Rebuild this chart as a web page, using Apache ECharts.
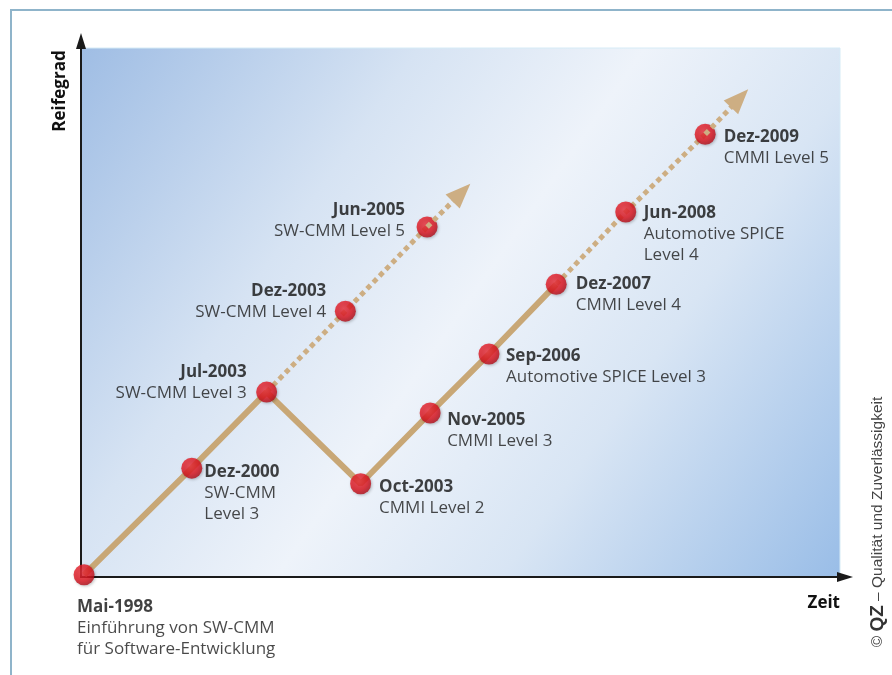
<!DOCTYPE html>
<html>
<head>
<meta charset="utf-8">
<title>Reifegrad</title>
<script src="https://cdn.jsdelivr.net/npm/echarts@6/dist/echarts.min.js"></script>
<style>
  html, body { margin: 0; padding: 0; background: #fff; }
  #main { width: 892px; height: 675px; }
</style>
</head>
<body>
<div id="main"></div>
<script>
  // Meilensteine: schematische Zeit-Position (x) und Reifegrad (y), 0..100
  let milestones = ['Mai-1998', 'Dez-2000', 'Jul-2003', 'Oct-2003', 'Nov-2005', 'Sep-2006', 'Dez-2007', 'Dez-2003', 'Jun-2005', 'Jun-2008', 'Dez-2009'];
  let descriptions = [
    'Einführung von SW-CMM\nfür Software-Entwicklung',
    'SW-CMM\nLevel 3',
    'SW-CMM Level 3',
    'CMMI Level 2',
    'CMMI Level 3',
    'Automotive SPICE Level 3',
    'CMMI Level 4',
    'SW-CMM Level 4',
    'SW-CMM Level 5',
    'Automotive SPICE\nLevel 4',
    'CMMI Level 5'
  ];
  let timePos = [0.4, 14.5, 24.3, 36.6, 45.7, 53.4, 62.2, 34.6, 45.3, 71.3, 81.7];
  let maturity = [0.4, 20.3, 34.5, 17.4, 30.6, 41.6, 54.6, 49.6, 65.3, 68.1, 82.6];

  // Pfade
  let solidPath = ['Mai-1998', 'Dez-2000', 'Jul-2003', 'Oct-2003', 'Nov-2005', 'Sep-2006', 'Dez-2007'];
  let swCmmPath = ['Jul-2003', 'Dez-2003', 'Jun-2005'];
  let cmmiPath = ['Dez-2007', 'Jun-2008', 'Dez-2009'];
  // Trendpfeile (Pfeilmitte)
  let swCmmTrend = [49.8, 71.7];
  let cmmiTrend = [86.2, 89.3];

  // Beschriftungslage je Meilenstein
  let labelPlace = {
    'Mai-1998': {position: 'bottom', distance: 0, align: 'left', verticalAlign: 'top', offset: [-7, 11]},
    'Dez-2000': {position: 'right', distance: 2, align: 'left', verticalAlign: 'top', offset: [0, -6.5]},
    'Jul-2003': {position: 'left', distance: 9.5, align: 'right', verticalAlign: 'bottom', offset: [0, 11.5]},
    'Oct-2003': {position: 'right', distance: 8, align: 'left', verticalAlign: 'top', offset: [0, -7.5]},
    'Nov-2005': {position: 'right', distance: 6.5, align: 'left', verticalAlign: 'top', offset: [0, -3.5]},
    'Sep-2006': {position: 'right', distance: 6.5, align: 'left', verticalAlign: 'top', offset: [0, -8.5]},
    'Dez-2007': {position: 'right', distance: 9, align: 'left', verticalAlign: 'top', offset: [0, -10.5]},
    'Dez-2003': {position: 'left', distance: 8.5, align: 'right', verticalAlign: 'bottom', offset: [0, 11.5]},
    'Jun-2005': {position: 'left', distance: 11.5, align: 'right', verticalAlign: 'bottom', offset: [0, 14.5]},
    'Jun-2008': {position: 'right', distance: 7.5, align: 'left', verticalAlign: 'top', offset: [0, -9.5]},
    'Dez-2009': {position: 'right', distance: 8, align: 'left', verticalAlign: 'top', offset: [0, -7.5]}
  };

  function pt(name) {
    let i = milestones.indexOf(name);
    return [timePos[i], maturity[i]];
  }

  let tan = '#c8a776';
  let dotTan = '#cdae83';
  let font = "'Open Sans', sans-serif";
  let credFont = "'Liberation Sans', Arial, sans-serif";

  let myChart = echarts.init(document.getElementById('main'));
  myChart.setOption({
    animation: false,
    grid: {left: 81, right: 47, top: 41, bottom: 98},
    graphic: [
      {
        type: 'polyline', z: -20, silent: true,
        shape: {points: [[11, 675], [11, 10], [892, 10]]},
        style: {stroke: '#8fb4ca', lineWidth: 2, fill: null}
      },
      {
        type: 'rect', z: -10, silent: true,
        shape: {x: 81, y: 48, width: 759, height: 529},
        style: {
          fill: {
            type: 'linear', x: 0, y: 0, x2: 1, y2: 1,
            colorStops: [
              {offset: 0, color: '#9fbde4'},
              {offset: 0.3, color: '#d6e3f3'},
              {offset: 0.5, color: '#eef3fa'},
              {offset: 0.7, color: '#d8e5f4'},
              {offset: 1, color: '#99bde7'}
            ]
          },
          stroke: '#d6ebf6', lineWidth: 1
        }
      },
      {
        type: 'text', x: 60, y: 91, rotation: Math.PI / 2, silent: true,
        style: {text: 'Reifegrad', align: 'center', verticalAlign: 'middle', font: 'bold 17px ' + font, fill: '#111'}
      },
      {
        type: 'text', x: 840, y: 603, silent: true,
        style: {text: 'Zeit', align: 'right', verticalAlign: 'middle', font: 'bold 17px ' + font, fill: '#111'}
      },
      {
        type: 'text', x: 878, y: 522, rotation: Math.PI / 2, silent: true,
        style: {
          text: '© {q|QZ} – Qualität und Zuverlässigkeit',
          align: 'center', verticalAlign: 'middle',
          fontFamily: credFont, fontSize: 15.5, fill: '#444',
          rich: {q: {fontWeight: 'bold', fontSize: 19, fontFamily: credFont, fill: '#333'}}
        }
      }
    ],
    xAxis: {
      type: 'value', min: 0, max: 100, z: 1,
      axisLine: {show: true, symbol: ['none', 'triangle'], symbolSize: [10, 16], lineStyle: {color: '#1a1a1a', width: 2}},
      axisTick: {show: false}, axisLabel: {show: false}, splitLine: {show: false}
    },
    yAxis: {
      type: 'value', min: 0, max: 100, z: 1,
      axisLine: {show: true, symbol: ['none', 'triangle'], symbolSize: [10, 16], lineStyle: {color: '#1a1a1a', width: 2}},
      axisTick: {show: false}, axisLabel: {show: false}, splitLine: {show: false}
    },
    series: [
      {
        name: 'Weg', type: 'line', z: 2, showSymbol: false, silent: true,
        data: solidPath.map(pt),
        lineStyle: {color: tan, width: 6}
      },
      {
        name: 'SW-CMM', type: 'line', z: 2, showSymbol: false, silent: true,
        data: swCmmPath.map(pt),
        lineStyle: {color: dotTan, width: 5, type: [5, 4]},
        markLine: {
          silent: true, symbol: ['none', 'triangle'], symbolSize: [20, 25],
          label: {show: false},
          lineStyle: {color: dotTan, width: 5, type: [5, 4]},
          itemStyle: {color: dotTan},
          data: [[{coord: pt('Jun-2005')}, {coord: swCmmTrend}]]
        }
      },
      {
        name: 'CMMI', type: 'line', z: 2, showSymbol: false, silent: true,
        data: cmmiPath.map(pt),
        lineStyle: {color: dotTan, width: 5, type: [5, 4]},
        markLine: {
          silent: true, symbol: ['none', 'triangle'], symbolSize: [20, 25],
          label: {show: false},
          lineStyle: {color: dotTan, width: 5, type: [5, 4]},
          itemStyle: {color: dotTan},
          data: [[{coord: pt('Dez-2009')}, {coord: cmmiTrend}]]
        }
      },
      {
        name: 'Meilensteine', type: 'scatter', z: 4, symbolSize: 21,
        itemStyle: {
          color: {
            type: 'radial', x: 0.42, y: 0.38, r: 0.62,
            colorStops: [
              {offset: 0, color: '#f0333d'},
              {offset: 0.65, color: '#e0141f'},
              {offset: 1, color: '#b20d19'}
            ]
          },
          shadowBlur: 3, shadowColor: 'rgba(0,0,0,0.3)', shadowOffsetX: 1, shadowOffsetY: 1
        },
        label: {
          show: true,
          formatter: function (p) {
            let lines = descriptions[p.dataIndex].split('\n').map(function (s) { return '{n|' + s + '}'; });
            return '{b|' + p.name + '}\n' + lines.join('\n');
          },
          rich: {
            b: {fontFamily: font, fontWeight: 'bold', fontSize: 17, lineHeight: 21, color: '#111'},
            n: {fontFamily: font, fontSize: 17, lineHeight: 21, color: '#1c1c1c'}
          }
        },
        data: milestones.map(function (n, i) {
          return {name: n, value: [timePos[i], maturity[i]], label: labelPlace[n]};
        })
      }
    ]
  });
</script>
</body>
</html>
